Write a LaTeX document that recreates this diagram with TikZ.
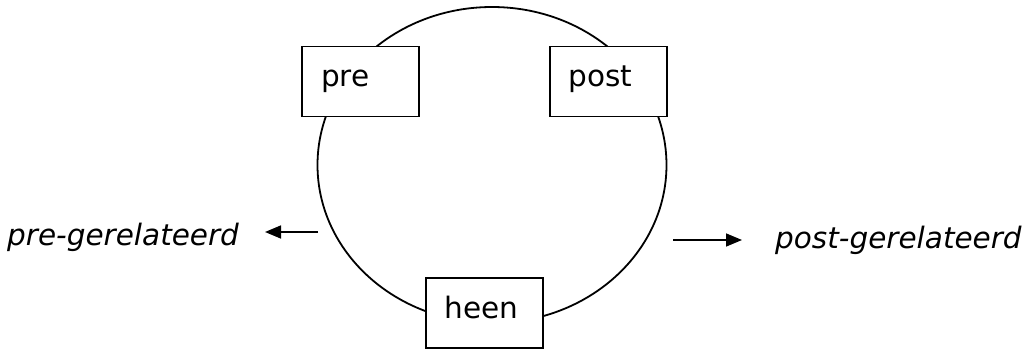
\documentclass[tikz,border=0pt]{standalone}
\usepackage{fontspec}
\setmainfont{DejaVu Sans}
\usetikzlibrary{arrows.meta}
\begin{document}
\begin{tikzpicture}[x=1pt,y=-1pt,
  every node/.style={font=\fontsize{29.5}{35}\selectfont},
  box/.style={draw, line width=1.8pt, fill=white, minimum width=117pt, minimum height=70pt,
    text width=79pt, inner xsep=19pt, inner ysep=0pt, align=left, text height=17pt, text depth=6pt},
  lab/.style={inner sep=0pt, font=\fontsize{29.5}{35}\selectfont\itshape},
  arr/.style={line width=1.6pt, -{Triangle[length=16pt,width=13pt]}}]
\useasboundingbox (0,0) rectangle (1026,350);
\draw[line width=1.8pt] (492,165) ellipse [x radius=174.5pt, y radius=158pt];
\node[box] (pre) at (360.5,81.5) {pre};
\node[box] (post) at (608.3,81.5) {post};
\node[box] (heen) at (484.2,313.3) {heen};
\node[lab, anchor=base west] (prelab) at (7,245) {pre-gerelateerd};
\node[lab, anchor=base west] (postlab) at (775,248) {post-gerelateerd};
\coordinate (ls) at (318,232);
\coordinate (le) at (265,232);
\coordinate (rs) at (673,240);
\coordinate (re) at (742,240);
\draw[arr] (ls) -- (le);
\draw[arr] (rs) -- (re);
\end{tikzpicture}
\end{document}
